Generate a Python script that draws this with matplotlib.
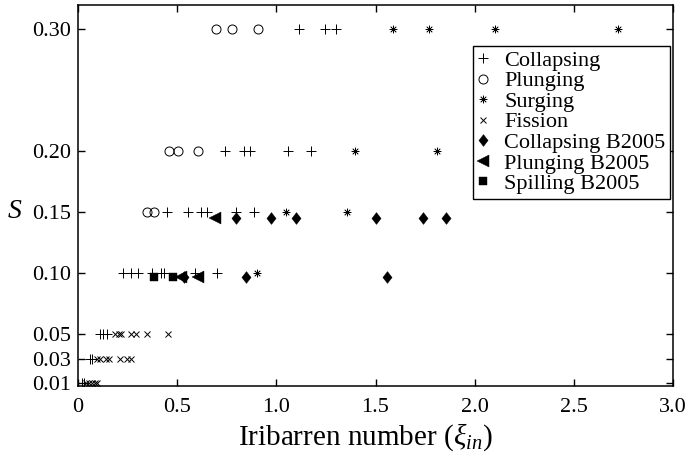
import matplotlib
matplotlib.use("Agg")
import matplotlib.pyplot as plt

# =========================
# Data
# =========================
collapsing_xi = [1.113, 1.244, 1.303,
                 0.742, 0.835, 0.869, 1.059, 1.177,
                 0.45, 0.557, 0.62, 0.65, 0.797, 0.888,
                 0.229, 0.266, 0.30, 0.372, 0.418, 0.434, 0.591, 0.702,
                 0.11, 0.128, 0.145,
                 0.062, 0.072,
                 0.02, 0.03]
collapsing_s = [0.30] * 3 + [0.20] * 5 + [0.15] * 6 + [0.10] * 8 + [0.05] * 3 + [0.03] * 2 + [0.01] * 2

plunging_xi = [0.695, 0.776, 0.908, 0.46, 0.503, 0.604, 0.35, 0.385]
plunging_s = [0.30] * 3 + [0.20] * 3 + [0.15] * 2

surging_xi = [1.588, 1.769, 2.101, 2.724, 1.399, 1.811, 1.047, 1.355, 0.902]
surging_s = [0.30] * 4 + [0.20] * 2 + [0.15] * 2 + [0.10]

fission_xi = [0.185, 0.205, 0.218, 0.265, 0.29, 0.348, 0.452,
              0.095, 0.11, 0.142, 0.155, 0.21, 0.248, 0.268,
              0.04, 0.055, 0.07, 0.085, 0.095]
fission_s = [0.05] * 7 + [0.03] * 7 + [0.01] * 5

coll_b2005_xi = [0.796, 0.975, 1.10, 1.505, 1.739, 1.857, 0.535, 0.847, 1.557]
coll_b2005_s = [0.145] * 6 + [0.097] * 3

plung_b2005_xi = [0.69, 0.52, 0.605]
plung_b2005_s = [0.145, 0.097, 0.097]

spill_b2005_xi = [0.385, 0.48]
spill_b2005_s = [0.097, 0.097]

y_ticks = [0.01, 0.03, 0.05, 0.10, 0.15, 0.20, 0.30]
y_ticklabels = ["0.01", "0.03", "0.05", "0.10", "0.15", "0.20", "0.30"]
x_ticks = [0, 0.5, 1.0, 1.5, 2.0, 2.5, 3.0]
x_ticklabels = ["0", "0.5", "1.0", "1.5", "2.0", "2.5", "3.0"]

# =========================
# Style
# =========================
plt.rcParams["font.family"] = "Liberation Serif"
plt.rcParams["mathtext.fontset"] = "custom"
plt.rcParams["mathtext.rm"] = "Liberation Serif"
plt.rcParams["mathtext.it"] = "Liberation Serif:italic"
plt.rcParams["font.size"] = 16

# diamond a bit fatter than matplotlib's "d"
diamond = [(0, 1), (0.78, 0), (0, -1), (-0.78, 0), (0, 1)]

fig = plt.figure(figsize=(6.88, 4.62), dpi=100)
ax = fig.add_axes([78 / 688, 1 - 386 / 462, 595 / 688, 381 / 462])

ax.plot(collapsing_xi, collapsing_s, "+", color="black", ms=7, mew=0.7, label="Collapsing")
ax.plot(plunging_xi, plunging_s, "o", mfc="none", color="black", ms=6.5, mew=0.7, label="Plunging")
ax.plot(surging_xi, surging_s, ls="none", marker=(8, 2, 0), color="black", ms=5.5, mew=0.5, label="Surging")
ax.plot(fission_xi, fission_s, "x", color="black", ms=4.5, mew=0.7, label="Fission")
ax.plot(coll_b2005_xi, coll_b2005_s, ls="none", marker=diamond, color="black", ms=8.5, mew=0.3,
        label="Collapsing B2005")
ax.plot(plung_b2005_xi, plung_b2005_s, "<", color="black", ms=8, mew=0.3, label="Plunging B2005")
ax.plot(spill_b2005_xi, spill_b2005_s, "s", color="black", ms=6, mew=0.3, label="Spilling B2005")

# =========================
# Axes formatting
# =========================
ax.set_xlim(0, 3.0)
ax.set_ylim(0.0075, 0.3197)
ax.set_xticks(x_ticks)
ax.set_xticklabels(x_ticklabels)
ax.set_yticks(y_ticks)
ax.set_yticklabels(y_ticklabels)
ax.tick_params(direction="in", length=5, width=1, top=True, right=True)
ax.tick_params(axis="x", pad=9)
ax.tick_params(axis="y", pad=5)
for sp in ax.spines.values():
    sp.set_linewidth(1.1)

ax.set_xlabel(r"Iribarren number ($\xi_{in}$)", fontsize=21, va="center")
ax.xaxis.set_label_coords(0.483, -0.134)
ax.set_ylabel("$S$", rotation=0, fontsize=20, va="center", ha="center")
ax.yaxis.set_label_coords(-0.106, 0.457)

leg = ax.legend(loc="upper right", bbox_to_anchor=(0.995, 0.893), borderaxespad=0,
                fancybox=False, edgecolor="black", framealpha=1, numpoints=1,
                handlelength=0.5, handletextpad=0.7, labelspacing=0.0, borderpad=0.2)
leg.get_frame().set_linewidth(1.0)

fig.savefig("out.png", dpi=100)
